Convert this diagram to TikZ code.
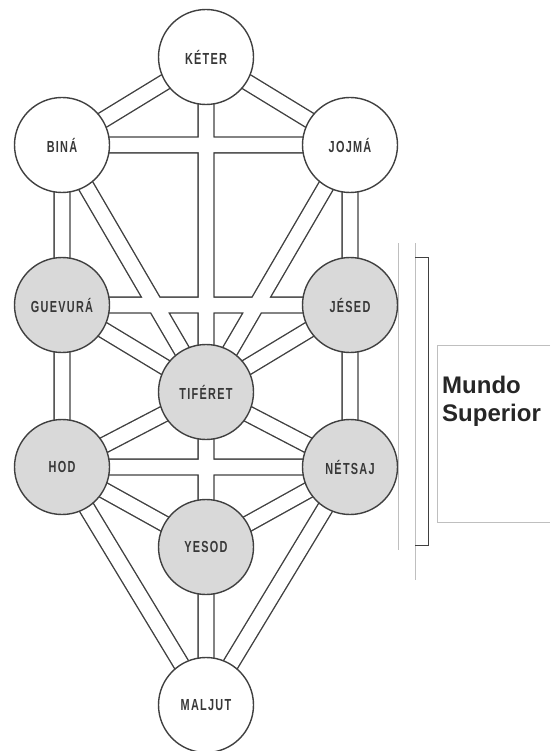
\documentclass[tikz,border=0pt]{standalone}
\usepackage{fontspec}
\usepackage{tikz}
\usetikzlibrary{backgrounds}
\setmainfont{Liberation Sans}
\newfontfamily\sefirafont{Liberation Sans}[FakeStretch=0.68,LetterSpace=8]
\definecolor{pathline}{gray}{0.25}
\definecolor{sefiragray}{gray}{0.85}
\definecolor{framegray}{gray}{0.75}

\begin{document}
\begin{tikzpicture}[x=1pt,y=-1pt]
  \tikzset{sefira/.style={circle,draw=pathline,line width=1.4pt,minimum size=95pt,inner sep=0pt,
                          font=\sefirafont\bfseries\fontsize{16}{16}\selectfont,text=black!78},
           upper/.style={sefira,fill=white},
           lower/.style={sefira,fill=sefiragray},
           channel/.style={draw=pathline,line width=1.4pt,double=white,double distance=14.5pt}}
  \useasboundingbox (0,0) rectangle (550,751);
  \node [upper] (keter)   at (206,57)  {KÉTER};
  \node [upper] (bina)    at (62,145)  {BINÁ};
  \node [upper] (jojma)   at (350,145) {JOJMÁ};
  \node [lower] (guevura) at (62,305)  {GUEVURÁ};
  \node [lower] (jesed)   at (350,305) {JÉSED};
  \node [lower] (tiferet) at (206,392) {TIFÉRET};
  \node [lower] (hod)     at (62,467)  {HOD};
  \node [lower] (netsaj)  at (350,467) {NÉTSAJ};
  \node [lower] (yesod)   at (206,547) {YESOD};
  \node [upper] (maljut)  at (206,705) {MALJUT};
  % the 22 paths, one path so the crossings open into each other
  \begin{scope}[on background layer]
    \draw [channel]
      (keter.center) -- (bina.center)      (keter.center) -- (jojma.center)
      (keter.center) -- (tiferet.center)   (bina.center) -- (jojma.center)
      (bina.center) -- (guevura.center)    (bina.center) -- (tiferet.center)
      (jojma.center) -- (jesed.center)     (jojma.center) -- (tiferet.center)
      (guevura.center) -- (jesed.center)   (guevura.center) -- (tiferet.center)
      (jesed.center) -- (tiferet.center)   (guevura.center) -- (hod.center)
      (jesed.center) -- (netsaj.center)    (tiferet.center) -- (hod.center)
      (tiferet.center) -- (netsaj.center)  (tiferet.center) -- (yesod.center)
      (hod.center) -- (netsaj.center)      (hod.center) -- (yesod.center)
      (netsaj.center) -- (yesod.center)    (hod.center) -- (maljut.center)
      (netsaj.center) -- (maljut.center)   (yesod.center) -- (maljut.center);
  \end{scope}
  % bracket and label
  \draw [framegray,line width=0.8pt] (398,243) -- (398,550);
  \draw [framegray,line width=0.8pt] (415,243) -- (415,580);
  \draw [pathline,line width=1pt] (415,257) -- (428,257) -- (428,545) -- (415,545);
  \draw [framegray,line width=0.8pt] (550,345) -- (437,345) -- (437,522) -- (550,522);
  \node [anchor=north west,align=left,inner sep=0pt,text=black!85,
         font=\bfseries\fontsize{24}{28}\selectfont] (mundo) at (442,376) {Mundo\\Superior};
\end{tikzpicture}
\end{document}
